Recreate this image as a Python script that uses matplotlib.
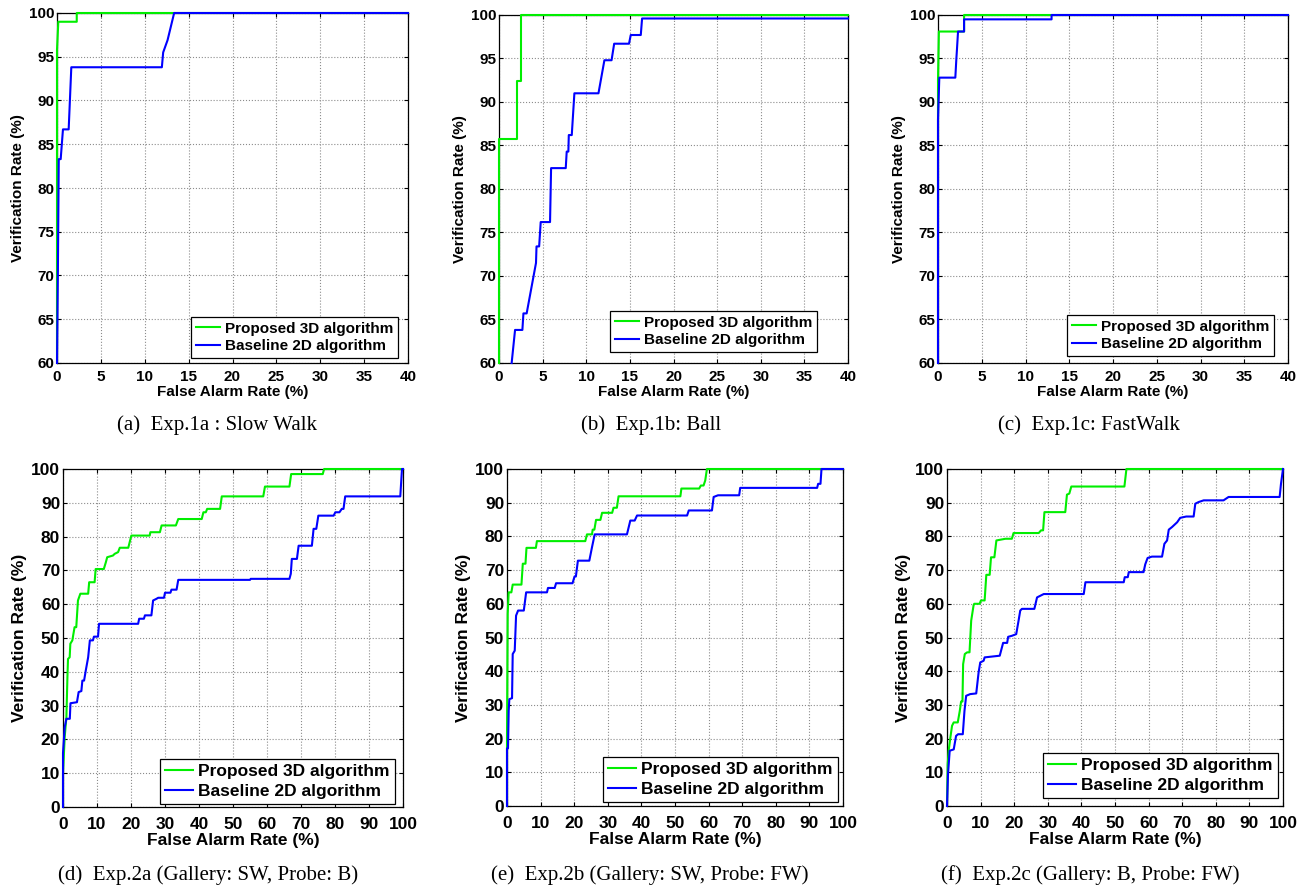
import matplotlib
matplotlib.use('Agg')
import matplotlib.pyplot as plt
import numpy as np

W, H = 1305, 888

legend_labels = ['Proposed 3D algorithm', 'Baseline 2D algorithm']
xlabel_text = 'False Alarm Rate (%)'
ylabel_text = 'Verification Rate (%)'
captions = ['(a)  Exp.1a : Slow Walk', '(b)  Exp.1b: Ball', '(c)  Exp.1c: FastWalk',
            '(d)  Exp.2a (Gallery: SW, Probe: B)', '(e)  Exp.2b (Gallery: SW, Probe: FW)',
            '(f)  Exp.2c (Gallery: B, Probe: FW)']

# (a) slow walk
a_prop_x = [0, 0, 0.15, 2.25, 2.25, 40]
a_prop_y = [60, 95.8, 99.0, 99.0, 100, 100]
a_base_x = [0, 0.1, 0.2, 0.42, 0.68, 1.33, 1.63, 11.95, 12.1, 12.6, 13.35, 40]
a_base_y = [60, 70.3, 83.3, 83.3, 86.7, 86.7, 93.8, 93.8, 95.5, 96.9, 100, 100]

# (b) ball
b_prop_x = [0, 0, 2.03, 2.03, 2.52, 2.52, 40]
b_prop_y = [60, 85.7, 85.7, 92.4, 92.4, 100, 100]
b_base_x = [1.45, 1.84, 2.68, 2.8, 3.17, 4.24, 4.3, 4.6, 4.78, 5.85, 5.97, 7.65, 7.76, 7.95, 8.0,
            8.34, 8.64, 11.4, 12.08, 12.9, 13.2, 14.9, 15.1, 16.25, 16.4, 40]
b_base_y = [60, 63.8, 63.8, 65.7, 65.7, 71.5, 73.4, 73.4, 76.2, 76.2, 82.4, 82.4, 84.3, 84.3, 86.2,
            86.2, 91.0, 91.0, 94.8, 94.8, 96.7, 96.7, 97.7, 97.7, 99.6, 99.6]

# (c) fast walk
c_prop_x = [0, 0, 0.1, 2.98, 2.98, 40]
c_prop_y = [60, 92.5, 98.1, 98.1, 100, 100]
c_base_x = [0, 0, 0.15, 1.98, 2.1, 2.17, 2.29, 2.98, 2.98, 12.98, 12.98, 40]
c_base_y = [60, 88, 92.8, 92.8, 95.0, 96.1, 98.1, 98.1, 99.5, 99.5, 100, 100]

# (d) gallery SW, probe B
d_prop_x = [0, 0, 0.5, 1.0, 1.3, 1.47, 1.96, 2.16, 2.75, 3.4, 3.9, 4.4, 5.1, 7.4, 7.7, 9.3, 9.6,
            12.0, 12.6, 13.0, 14.7, 15.2, 16.2, 16.7, 19.2, 20.1, 25.5, 25.7, 28.5, 29.0, 33.2,
            33.9, 40.8, 41.3, 42.0, 42.4, 46.2, 46.7, 58.9, 59.4, 66.6, 67.1, 76.4, 76.8, 100]
d_prop_y = [0, 10, 20.7, 26.6, 38.4, 43.8, 44.3, 48.3, 49.3, 53.2, 53.2, 61.1, 63.1, 63.1, 66.5,
            66.5, 70.4, 70.4, 72.4, 73.9, 74.4, 74.9, 75.4, 76.7, 76.7, 80.3, 80.3, 81.3, 81.3,
            83.3, 83.3, 85.2, 85.2, 87.2, 87.2, 88.2, 88.2, 91.9, 91.9, 94.8, 94.8, 98.5, 98.5,
            100, 100]
d_base_x = [0, 0, 0.5, 1.0, 2.0, 2.2, 4.1, 4.6, 5.4, 5.7, 6.2, 6.7, 7.4, 7.9, 8.8, 9.1, 10.3,
            10.6, 22.1, 22.4, 23.8, 24.1, 26.0, 26.5, 27.5, 28.0, 29.7, 30.0, 31.6, 31.9, 33.4,
            33.9, 55.0, 55.2, 66.6, 67.0, 67.3, 68.8, 69.3, 73.2, 73.7, 74.5, 75.1, 79.6, 80.1,
            81.3, 82.0, 82.5, 83.0, 99.2, 99.7, 100]
d_base_y = [0, 16, 23.6, 26.1, 26.1, 30.7, 31.0, 34.0, 34.3, 37.4, 37.4, 40.4, 44.3, 49.3, 49.3,
            50.4, 50.4, 54.2, 54.2, 55.7, 55.7, 56.7, 56.7, 61.1, 61.6, 61.9, 61.9, 63.4, 63.4,
            64.3, 64.3, 67.2, 67.2, 67.5, 67.5, 69.0, 73.4, 73.4, 77.3, 77.3, 82.3, 82.3, 86.2,
            86.2, 87.2, 87.2, 88.2, 88.2, 91.9, 91.9, 100, 100]

# (e) gallery SW, probe FW
e_prop_x = [0, 0, 0.2, 0.5, 1.3, 1.7, 4.3, 4.7, 5.5, 5.8, 8.6, 8.9, 23.3, 23.8, 25.3, 25.5, 26.0,
            26.5, 27.8, 28.3, 31.3, 31.7, 32.7, 33.2, 51.6, 51.9, 57.2, 57.7, 58.5, 59.0, 59.5, 100]
e_prop_y = [0, 20, 57.0, 63.4, 63.4, 65.7, 65.7, 71.9, 71.9, 76.6, 76.6, 78.6, 78.6, 80.6, 80.6,
            82.0, 82.0, 84.9, 84.9, 87.0, 87.0, 88.5, 88.5, 91.9, 91.9, 94.2, 94.2, 95.1, 95.1,
            96.6, 100, 100]
e_base_x = [0, 0, 0.3, 0.5, 0.7, 1.5, 1.7, 2.3, 2.7, 3.3, 5.0, 5.7, 11.9, 12.2, 14.2, 14.6, 19.5,
            20.1, 20.5, 21.1, 24.5, 25.3, 26.1, 35.7, 36.7, 38.0, 38.7, 53.6, 54.1, 61.0, 61.5,
            62.8, 69.1, 69.4, 92.3, 92.6, 93.3, 93.6, 100]
e_base_y = [0, 17.1, 17.1, 28.2, 31.7, 32.0, 45.1, 46.1, 56.5, 58.0, 58.0, 63.4, 63.4, 64.7, 64.7,
            66.1, 66.1, 68.1, 68.1, 72.8, 72.8, 76.8, 80.6, 80.6, 84.7, 84.7, 86.2, 86.2, 87.7,
            87.7, 91.7, 92.2, 92.2, 94.4, 94.4, 95.6, 95.6, 100, 100]

# (f) gallery B, probe FW
f_prop_x = [0, 0.2, 0.5, 1.0, 1.5, 2.0, 3.2, 3.8, 4.2, 4.6, 4.8, 5.3, 6.0, 6.7, 7.2, 7.9, 8.1,
            9.7, 10.1, 11.2, 11.7, 12.7, 13.1, 14.1, 14.7, 17.4, 19.3, 19.8, 27.3, 28.0, 28.6,
            29.0, 35.2, 35.7, 36.4, 37.0, 52.8, 53.4, 100]
f_prop_y = [0, 12.4, 16.4, 20.3, 23.8, 24.8, 24.8, 28.2, 31.0, 31.0, 42.1, 45.1, 45.6, 45.6, 55.0,
            59.5, 60.0, 60.0, 61.0, 61.0, 68.6, 68.6, 73.8, 73.8, 78.8, 79.3, 79.3, 81.0, 81.0,
            81.8, 81.8, 87.2, 87.2, 92.4, 92.7, 94.8, 94.8, 100, 100]
f_base_x = [0, 0.3, 0.8, 2.0, 2.7, 3.3, 4.7, 5.2, 5.7, 6.9, 8.7, 9.4, 9.9, 10.9, 11.2, 15.7, 16.7,
            17.9, 18.2, 19.3, 20.6, 21.3, 21.8, 22.3, 26.0, 26.8, 28.8, 40.7, 41.2, 52.6, 52.9,
            53.8, 54.1, 58.5, 59.0, 59.7, 61.0, 64.0, 64.7, 65.5, 66.0, 67.0, 68.5, 69.4, 71.2,
            73.4, 73.9, 74.9, 76.4, 82.3, 83.8, 99.0, 99.4, 100]
f_base_y = [0, 9.4, 16.4, 16.8, 20.8, 21.3, 21.3, 28.2, 32.7, 33.2, 33.4, 39.6, 42.6, 43.1, 44.1,
            44.6, 48.4, 48.4, 50.2, 50.5, 51.0, 55.0, 58.0, 58.5, 58.5, 61.9, 62.9, 62.9, 66.4,
            66.4, 67.9, 67.9, 69.4, 69.4, 71.7, 73.6, 74.0, 74.0, 77.8, 78.8, 82.0, 82.8, 84.2,
            85.5, 85.9, 85.9, 89.7, 90.2, 90.7, 90.7, 91.7, 91.7, 95.6, 100]

plt.rcParams['font.family'] = ['Liberation Sans', 'DejaVu Sans']
plt.rcParams['font.weight'] = 'bold'

fig = plt.figure(figsize=(W / 100, H / 100), dpi=100)


def px_axes(l, t, r, b):
    return fig.add_axes([l / W, 1 - b / H, (r - l) / W, (b - t) / H])


def rocplot(ax, prop, base, xlim, ylim, step, fs, xpad, leg_gap):
    ax.plot(prop[0], prop[1], color='#00ee00', lw=1.5, label=legend_labels[0], clip_on=False, zorder=3)
    ax.plot(base[0], base[1], color='#0000ff', lw=1.5, label=legend_labels[1], clip_on=False, zorder=4)
    ax.set_xlim(xlim)
    ax.set_ylim(ylim)
    ax.set_xticks(np.arange(xlim[0], xlim[1] + 1, step[0]))
    ax.set_yticks(np.arange(ylim[0], ylim[1] + 1, step[1]))
    ax.grid(True, ls=':', color='0.55', lw=0.8)
    ax.tick_params(direction='in', top=True, right=True, length=3, width=0.8, labelsize=fs)
    ax.tick_params(axis='y', pad=2)
    ax.tick_params(axis='x', pad=xpad)
    for s in ax.spines.values():
        s.set_linewidth(0.9)
    ax.set_xlabel(xlabel_text, fontsize=fs, fontweight='bold', labelpad=1)
    ax.set_ylabel(ylabel_text, fontsize=fs, fontweight='bold', labelpad=3)
    # legend placed by hand (pixel gap from lower right corner)
    bb = ax.get_position()
    gx = leg_gap[0] / (bb.width * W)
    gy = leg_gap[1] / (bb.height * H)
    leg = ax.legend(loc='lower right', bbox_to_anchor=(1 - gx, gy), borderaxespad=0,
                    fontsize=fs, fancybox=False, framealpha=1,
                    edgecolor='k', handlelength=1.6, handletextpad=0.3, borderpad=0.3,
                    labelspacing=0.25)
    leg.get_frame().set_linewidth(0.9)
    for t in leg.get_texts():
        t.set_fontweight('bold')


ax = px_axes(57, 13, 408, 363)
rocplot(ax, (a_prop_x, a_prop_y), (a_base_x, a_base_y), (0, 40), (60, 100), (5, 5), 11, 5, (10, 5))
ax = px_axes(499, 15, 848, 363)
rocplot(ax, (b_prop_x, b_prop_y), (b_base_x, b_base_y), (0, 40), (60, 100), (5, 5), 11, 5, (31, 11))
ax = px_axes(938, 15, 1288, 363)
rocplot(ax, (c_prop_x, c_prop_y), (c_base_x, c_base_y), (0, 40), (60, 100), (5, 5), 11, 5, (14, 7))
ax = px_axes(63, 469, 403, 807)
rocplot(ax, (d_prop_x, d_prop_y), (d_base_x, d_base_y), (0, 100), (0, 100), (10, 10), 12.5, 7, (8, 3))
ax = px_axes(507, 469, 843, 806)
rocplot(ax, (e_prop_x, e_prop_y), (e_base_x, e_base_y), (0, 100), (0, 100), (10, 10), 12.5, 7, (5, 4))
ax = px_axes(947, 469, 1283, 806)
rocplot(ax, (f_prop_x, f_prop_y), (f_base_x, f_base_y), (0, 100), (0, 100), (10, 10), 12.5, 7, (5, 8))

cap_x = [217, 651, 1089, 208, 650, 1090]
cap_y = [425, 425, 425, 875, 875, 875]
for txt, cx, cy in zip(captions, cap_x, cap_y):
    fig.text(cx / W, 1 - cy / H, txt, ha='center', va='center', fontsize=15,
             family='Liberation Serif', fontweight='normal')

plt.savefig('out.png', dpi=100)
